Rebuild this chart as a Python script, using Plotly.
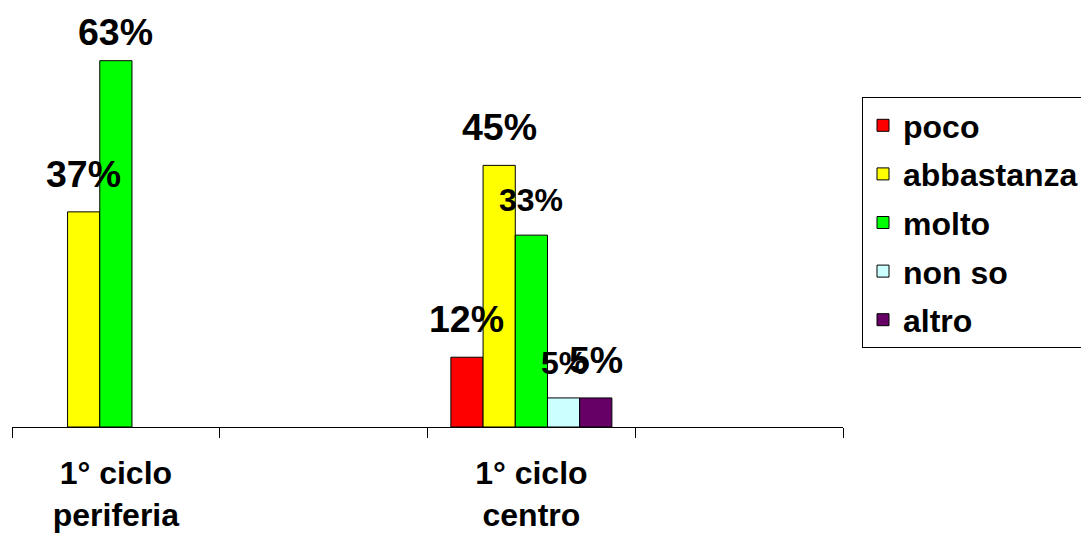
import plotly.graph_objects as go

# ---- data ----
categories = ["1° ciclo<br>periferia", " ", "1° ciclo<br>centro", "  "]
series_names = ["poco", "abbastanza", "molto", "non so", "altro"]
poco = [None, None, 12, None]
abbastanza = [37, None, 45, None]
molto = [63, None, 33, None]
non_so = [None, None, 5, None]
altro = [None, None, 5, None]
series_values = [poco, abbastanza, molto, non_so, altro]

# ---- style ----
colors = ["#FF0000", "#FFFF00", "#00FF00", "#CCFFFF", "#660066"]
FONT = "Arial, Liberation Sans, sans-serif"
bargap = 0.225
label_size = {"molto": 37.5, "abbastanza": 37.5, "poco": 37.5, "non so": 32, "altro": 37.5}
label_size_override = {(2, "molto"): 32}
gap_override = {(0, "molto"): 14}
default_gap = 23

fig = go.Figure()
for name, vals, col in zip(series_names, series_values, colors):
    fig.add_trace(go.Bar(
        x=categories, y=vals, name=name,
        marker=dict(color=col, line=dict(color="black", width=1)),
        legendgroup=name,
    ))

n = len(series_names)
w = (1 - bargap) / n
for j, (name, vals) in enumerate(zip(series_names, series_values)):
    for i, v in enumerate(vals):
        if v is None:
            continue
        size = label_size_override.get((i, name), label_size[name])
        gap = gap_override.get((i, name), default_gap)
        fig.add_annotation(
            x=i + (j - (n - 1) / 2) * w, y=v, xref="x", yref="y",
            text=f"{v}%", showarrow=False, yanchor="bottom",
            yshift=gap - 8,
            font=dict(family=FONT, size=size, color="black", weight="bold"),
        )

fig.update_layout(
    width=1081, height=533,
    margin=dict(l=12, r=238, t=20, b=106, autoexpand=False),
    paper_bgcolor="white", plot_bgcolor="white",
    barmode="group", bargap=bargap, bargroupgap=0,
    showlegend=True,
    legend=dict(
        x=(862 - 12) / 831, xanchor="left", y=(427 - 97) / 407, yanchor="top",
        bordercolor="black", borderwidth=1, bgcolor="white",
        font=dict(family=FONT, size=32, color="black", weight="bold"),
        traceorder="grouped", tracegroupgap=4,
    ),
    xaxis=dict(
        type="category", range=[-0.5, 3.5], automargin=False,
        showline=True, linecolor="black", linewidth=1,
        ticks="outside", ticklen=10, tickcolor="black", tickwidth=1,
        tickson="boundaries", showgrid=False, zeroline=False,
        tickfont=dict(family=FONT, size=32, color="black", weight="bold"),
        ticklabelstandoff=18,
    ),
    yaxis=dict(range=[0, 70], visible=False, showgrid=False, zeroline=False,
               automargin=False),
)

fig.write_html("out.html")
